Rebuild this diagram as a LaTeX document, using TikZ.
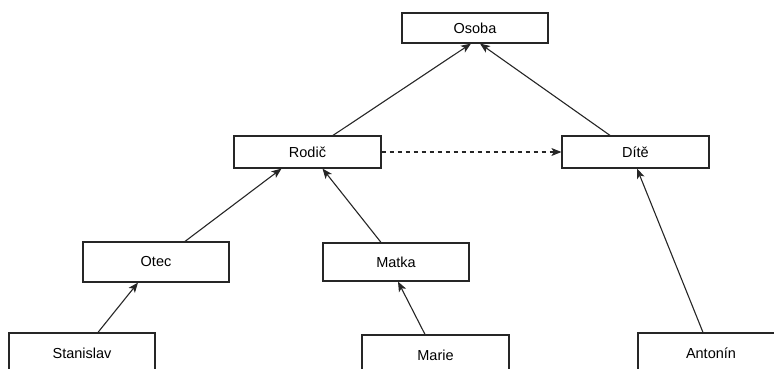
\documentclass[tikz,border=0pt]{standalone}
\usepackage{fontspec}
\setmainfont{Liberation Sans}
\usetikzlibrary{arrows.meta}
\begin{document}
\begin{tikzpicture}[x=1pt,y=-1pt,
  box/.style={draw=black!85,line width=1.2pt,fill=white,inner sep=0pt,
    font=\fontsize{14.5}{16}\selectfont},
  link/.style={draw=black!85,line width=1.1pt,
    -{Stealth[length=10pt,width=8pt,inset=2.5pt]}},
  dlink/.style={link,dash pattern=on 4pt off 4pt}]
\useasboundingbox (0,0) rectangle (774,369);
% class boxes
\node[box,minimum width=146pt,minimum height=30pt] (osoba) at (475,28) {Osoba};
\node[box,minimum width=147pt,minimum height=32pt] (rodic) at (307.5,152) {Rodič};
\node[box,minimum width=147pt,minimum height=32pt] (dite) at (635.5,152) {Dítě};
\node[box,minimum width=146pt,minimum height=40pt] (otec) at (156,262) {Otec};
\node[box,minimum width=146pt,minimum height=38pt] (matka) at (396,262) {Matka};
\node[box,minimum width=146pt,minimum height=40pt] (stanislav) at (82,353) {Stanislav};
\node[box,minimum width=147pt,minimum height=40pt] (marie) at (435.5,355) {Marie};
\node[box,minimum width=146pt,minimum height=40pt] (antonin) at (711,353) {Antonín};
% inheritance links
\draw[link] ([xshift=25.5pt]rodic.north) -- ([xshift=-4pt]osoba.south);
\draw[link] ([xshift=-25.5pt]dite.north) -- ([xshift=5pt]osoba.south);
\draw[dlink] (rodic.east) -- (dite.west);
\draw[link] ([xshift=29pt]otec.north) -- ([xshift=-26pt]rodic.south);
\draw[link] ([xshift=-15pt]matka.north) -- ([xshift=15pt]rodic.south);
\draw[link] ([xshift=16pt]stanislav.north) -- ([xshift=-18pt]otec.south);
\draw[link] ([xshift=-10.5pt]marie.north) -- ([xshift=2pt]matka.south);
\draw[link] ([xshift=-8pt]antonin.north) -- ([xshift=1.5pt]dite.south);
\end{tikzpicture}
\end{document}
